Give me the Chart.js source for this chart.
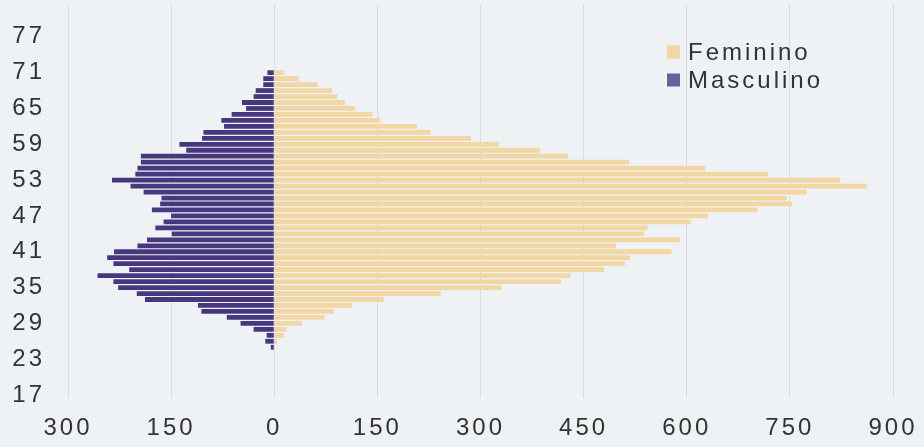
<!DOCTYPE html>
<html>
<head>
<meta charset="utf-8">
<script src="https://cdn.jsdelivr.net/npm/chart.js@4/dist/chart.umd.min.js"></script>
<style>
html,body{margin:0;padding:0;background:#eff2f5;}
#wrap{width:924px;height:447px;position:relative;}
</style>
</head>
<body>
<div id="wrap"><canvas id="c" width="924" height="447"></canvas></div>
<script>
// Ages 17..82 (bottom to top)
const ages = [];
for (let a = 17; a <= 82; a++) ages.push(a);

// Feminino counts by age, 17..82
const feminino = [
  0,0,0,0,0,0,0,0,          // 17-24
  0,4,14,18,40,73,87,113,   // 25-32
  159,242,330,417,431,480,510,518, // 33-40
  578,497,590,538,543,606,631,703, // 41-48
  753,745,775,862,823,718,627,516, // 49-56
  427,386,327,286,227,208,154,143, // 57-64
  118,103,92,84,63,36,14,0,        // 65-72
  0,0,0,0,0,0,0,0,0,0              // 73-82
];

// Masculino counts by age, 17..82
const masculino = [
  0,0,0,0,0,0,0,0,          // 17-24
  5,13,11,30,49,69,106,111, // 25-32
  188,200,227,234,257,211,234,243, // 33-40
  233,199,185,149,173,161,150,178, // 41-48
  166,164,190,209,236,202,199,194, // 49-56
  194,128,138,105,103,73,77,62,    // 57-64
  41,47,30,27,16,16,10,0,          // 65-72
  0,0,0,0,0,0,0,0,0,0              // 73-82
];

const xTicks = [-300,-150,0,150,300,450,600,750,900];
const seriesNames = ['Feminino','Masculino'];
const femColor = '#f2d6a3';
const mascColor = '#47377f';

const FONT = '"Liberation Sans", Arial, sans-serif';
const SPACING = '3px';

const spacingPlugin = {
  id: 'spacing',
  beforeInit(chart){ chart.ctx.letterSpacing = SPACING; },
  beforeUpdate(chart){ chart.ctx.letterSpacing = SPACING; },
  beforeDraw(chart){ chart.ctx.letterSpacing = SPACING; }
};

const legendPlugin = {
  id: 'boxLegend',
  afterDraw(chart){
    const ctx = chart.ctx;
    ctx.save();
    ctx.letterSpacing = SPACING;
    ctx.font = '24px ' + FONT;
    ctx.textBaseline = 'middle';
    ctx.textAlign = 'left';
    const x0 = 667, y0 = 52, step = 28;
    chart.data.datasets.forEach((ds, i) => {
      const y = y0 + i * step;
      ctx.fillStyle = ds.legendColor || ds.backgroundColor;
      ctx.fillRect(x0, y - 6.5, 13, 13);
      ctx.fillStyle = '#333333';
      ctx.fillText(ds.label, x0 + 21, y + 1);
    });
    ctx.restore();
  }
};

new Chart(document.getElementById('c'), {
  type: 'bar',
  data: {
    labels: ages,
    datasets: [
      { label: seriesNames[0], data: feminino, backgroundColor: femColor, legendColor: '#f4d6a2',
        barPercentage: 0.8, categoryPercentage: 1.0, borderWidth: 0 },
      { label: seriesNames[1], data: masculino.map(v => -v), backgroundColor: mascColor, legendColor: '#6a5e9c',
        barPercentage: 0.8, categoryPercentage: 1.0, borderWidth: 0 }
    ]
  },
  options: {
    indexAxis: 'y',
    responsive: false,
    animation: false,
    maintainAspectRatio: false,
    layout: { padding: { top: 4, right: 31, left: 0, bottom: 0 } },
    plugins: { legend: { display: false }, tooltip: { enabled: false } },
    scales: {
      x: {
        stacked: true,
        min: -300, max: 900,
        afterBuildTicks(scale){ scale.ticks = xTicks.map(v => ({ value: v })); },
        afterFit(scale){
          scale.height = 49;
          scale.paddingLeft = 0; scale.paddingRight = 0;
          scale.paddingTop = 0; scale.paddingBottom = 0;
        },
        grid: { color: '#d9dde1', lineWidth: 1, drawTicks: false },
        border: { display: false },
        ticks: {
          padding: 16,
          color: '#333333',
          font: { family: FONT, size: 24 },
          callback: v => Math.abs(v)
        }
      },
      y: {
        stacked: true,
        reverse: true,
        afterFit(scale){
          scale.width = 68;
          scale.paddingTop = 0; scale.paddingBottom = 0;
          scale.paddingLeft = 0; scale.paddingRight = 0;
        },
        grid: { display: false, drawTicks: false },
        border: { display: false },
        ticks: {
          autoSkip: false,
          padding: 23,
          color: '#333333',
          font: { family: FONT, size: 24 },
          callback: function(value){
            const age = this.getLabelForValue(value);
            return ((age - 17) % 6 === 0) ? String(age) : null;
          }
        }
      }
    }
  },
  plugins: [spacingPlugin, legendPlugin]
});
</script>
</body>
</html>
